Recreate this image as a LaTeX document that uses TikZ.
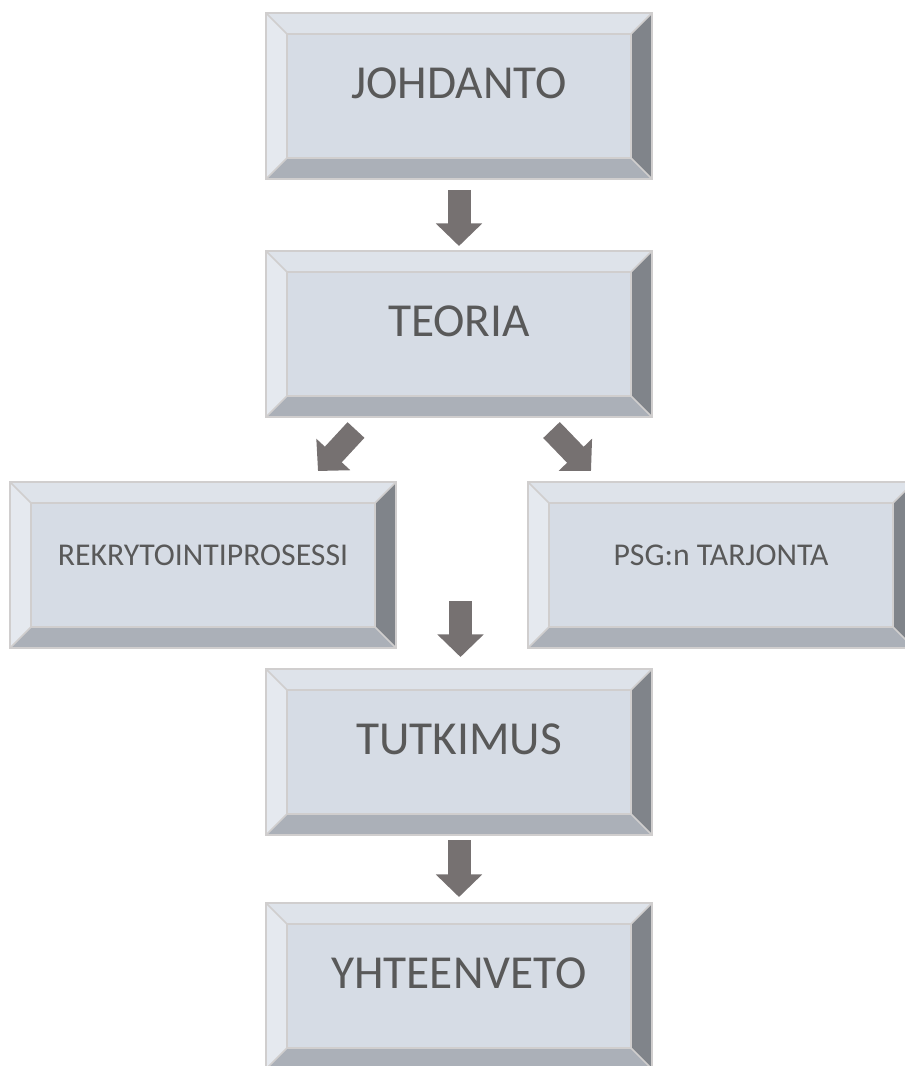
\documentclass[tikz,border=0pt]{standalone}
\usepackage{fontspec}
\setmainfont{Carlito}
\usetikzlibrary{arrows.meta}

\definecolor{facecol}{HTML}{D6DCE5}
\definecolor{topbevel}{HTML}{DEE3EA}
\definecolor{leftbevel}{HTML}{E5E9EF}
\definecolor{bottombevel}{HTML}{ABB0B8}
\definecolor{rightbevel}{HTML}{80848A}
\definecolor{bevelline}{HTML}{D0CECE}
\definecolor{arrowgray}{HTML}{767171}
\definecolor{textgray}{HTML}{595959}

\tikzset{
    bevelbox/.style={rectangle, minimum width=289.5pt, minimum height=124.5pt,
        inner sep=0pt, outer sep=0pt, fill=facecol, draw=bevelline, line width=1.5pt,
        text=textgray, font=\fontsize{35.5}{40}\selectfont,
        text height=22.4pt, text depth=18pt,
        path picture={
            \coordinate (nw) at (path picture bounding box.north west);
            \coordinate (ne) at (path picture bounding box.north east);
            \coordinate (sw) at (path picture bounding box.south west);
            \coordinate (se) at (path picture bounding box.south east);
            \fill[topbevel] (nw) -- (ne) -- ([shift={(-21,21)}]ne) -- ([shift={(21,21)}]nw) -- cycle;
            \fill[leftbevel] (nw) -- ([shift={(21,21)}]nw) -- ([shift={(21,-21)}]sw) -- (sw) -- cycle;
            \fill[bottombevel] (sw) -- ([shift={(21,-21)}]sw) -- ([shift={(-21,-21)}]se) -- (se) -- cycle;
            \fill[rightbevel] (ne) -- (se) -- ([shift={(-21,-21)}]se) -- ([shift={(-21,21)}]ne) -- cycle;
            \draw[bevelline, line width=1.5pt] ([shift={(21,21)}]nw) rectangle ([shift={(-21,-21)}]se);
            \draw[bevelline, line width=1.2pt] (nw) -- ([shift={(21,21)}]nw)
                (ne) -- ([shift={(-21,21)}]ne)
                (sw) -- ([shift={(21,-21)}]sw)
                (se) -- ([shift={(-21,-21)}]se);
        }},
    smalltext/.style={font=\fontsize{23.8}{28}\selectfont, text height=15pt, text depth=15pt},
    blockarrow/.style={draw=arrowgray, line width=17.25pt, line cap=butt,
        -{Triangle[width=33.75pt, length=16.9pt]}}
}

\begin{document}
\begin{tikzpicture}[x=0.75pt, y=-0.75pt]
    \clip (0,0) rectangle (905,1066);

    \node[bevelbox] (johdanto) at (459,96) {JOHDANTO};
    \node[bevelbox] (teoria) at (459,334) {TEORIA};

    \node[bevelbox, smalltext] (rekry) at (203,565) {REKRYTOINTIPROSESSI};
    \node[bevelbox, smalltext] (psg) at (721,565) {PSG:n TARJONTA};

    \node[bevelbox] (tutkimus) at (459,752) {TUTKIMUS};
    \node[bevelbox] (yhteenveto) at (459,986) {YHTEENVETO};

    \coordinate (merge) at (460.5,601);

    \draw[blockarrow, shorten <=8.25pt, shorten >=3.75pt] (johdanto.south) -- (teoria.north);
    \draw[blockarrow] ([shift={(90,13)}]teoria.south west) -- ([shift={(-78,-11)}]rekry.north east);
    \draw[blockarrow] ([shift={(-100.5,13)}]teoria.south east) -- ([shift={(63,-11)}]psg.north west);
    \draw[blockarrow, shorten >=9pt] (merge) -- (merge |- tutkimus.north);
    \draw[blockarrow, shorten <=3.75pt, shorten >=4.5pt] (tutkimus.south) -- (yhteenveto.north);
\end{tikzpicture}
\end{document}
